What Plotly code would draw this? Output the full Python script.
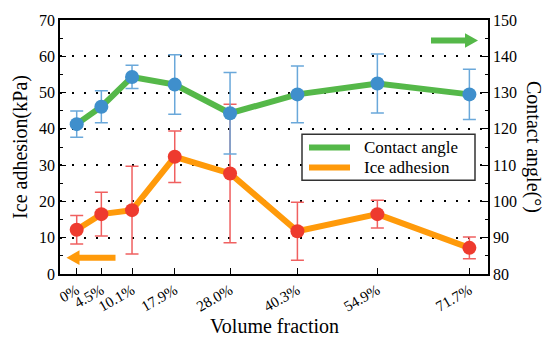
import plotly.graph_objects as go

# ---- data ----
volume_fraction = [0, 4.5, 10.1, 17.9, 28.0, 40.3, 54.9, 71.7]
tick_labels = ["0%", "4.5%", "10.1%", "17.9%", "28.0%", "40.3%", "54.9%", "71.7%"]
contact_angle = [121.3, 126.1, 134.3, 132.2, 124.3, 129.5, 132.5, 129.5]
contact_angle_err = [3.6, 4.4, 3.2, 8.2, 11.2, 7.8, 8.1, 6.9]
ice_adhesion = [12.2, 16.5, 17.6, 32.3, 27.7, 11.8, 16.5, 7.2]
ice_adhesion_err = [3.9, 6.0, 12.1, 7.1, 19.1, 8.0, 3.8, 3.0]
series_names = ["Contact angle", "Ice adhesion"]

GREEN = "#55b849"
ORANGE = "#ff9a0a"
BLUE = "#3f8fcc"
RED = "#ee3a2e"
FONT = "Liberation Serif"

W, H = 550, 346
ML, MR, MT, MB = 60, 62, 14, 72
PW, PH = W - ML - MR, H - MT - MB


def px(xp):
    return (xp - ML) / PW


def py(yp):
    return (H - MB - yp) / PH


fig = go.Figure()

fig.add_trace(go.Scatter(
    x=volume_fraction, y=ice_adhesion, mode="lines+markers", name=series_names[1],
    showlegend=False,
    line=dict(color=ORANGE, width=6),
    marker=dict(color=RED, size=14),
    error_y=dict(type="data", array=ice_adhesion_err, color="#f06060", thickness=1.5, width=6.5),
    yaxis="y",
))
fig.add_trace(go.Scatter(
    x=volume_fraction, y=contact_angle, mode="lines+markers", name=series_names[0],
    showlegend=False,
    line=dict(color=GREEN, width=6),
    marker=dict(color=BLUE, size=14),
    error_y=dict(type="data", array=contact_angle_err, color="#6aa8da", thickness=1.5, width=6.5),
    yaxis="y2",
))

shapes = [
    # legend box
    dict(type="rect", xref="paper", yref="paper", x0=px(302), x1=px(475), y0=py(178), y1=py(131),
         line=dict(color="#333333", width=1.5), fillcolor="white", layer="above"),
    dict(type="line", xref="paper", yref="paper", x0=px(309), x1=px(350), y0=py(144.5), y1=py(144.5),
         line=dict(color=GREEN, width=6), layer="above"),
    dict(type="line", xref="paper", yref="paper", x0=px(309), x1=px(350), y0=py(165), y1=py(165),
         line=dict(color=ORANGE, width=6), layer="above"),
    # green arrow (right axis)
    dict(type="line", xref="paper", yref="paper", x0=px(431), x1=px(466), y0=py(35), y1=py(35),
         line=dict(color=GREEN, width=6), layer="above"),
    dict(type="path", xref="paper", yref="paper",
         path=f"M {px(465)} {py(27.5)} L {px(478)} {py(35)} L {px(465)} {py(42.5)} Z",
         fillcolor=GREEN, line=dict(width=0), layer="above"),
    # orange arrow (left axis)
    dict(type="line", xref="paper", yref="paper", x0=px(78), x1=px(115.5), y0=py(257.3), y1=py(257.3),
         line=dict(color=ORANGE, width=6), layer="above"),
    dict(type="path", xref="paper", yref="paper",
         path=f"M {px(79.5)} {py(249.8)} L {px(66.5)} {py(257.3)} L {px(79.5)} {py(264.8)} Z",
         fillcolor=ORANGE, line=dict(width=0), layer="above"),
]

annotations = [
    dict(xref="paper", yref="paper", x=px(362), y=py(144.5), text=series_names[0],
         showarrow=False, xanchor="left", yanchor="middle",
         font=dict(family=FONT, size=17, color="black")),
    dict(xref="paper", yref="paper", x=px(362), y=py(165), text=series_names[1],
         showarrow=False, xanchor="left", yanchor="middle",
         font=dict(family=FONT, size=17, color="black")),
    dict(xref="paper", yref="paper", x=px(534), y=py(144), text="Contact angle(°)",
         textangle=90, showarrow=False, xanchor="center", yanchor="middle",
         font=dict(family=FONT, size=20, color="black")),
    dict(xref="paper", yref="paper", x=px(274), y=py(327), text="Volume fraction",
         showarrow=False, xanchor="center", yanchor="middle",
         font=dict(family=FONT, size=20, color="black")),
]

fig.update_layout(
    width=W, height=H,
    margin=dict(l=ML, r=MR, t=MT, b=MB),
    paper_bgcolor="white", plot_bgcolor="white",
    font=dict(family=FONT, size=16, color="black"),
    showlegend=False,
    xaxis=dict(
        range=[-3.05, 75.1], tickvals=volume_fraction, ticktext=tick_labels,
        tickangle=-30, tickfont=dict(family=FONT, size=15),
        ticks="inside", ticklen=6, tickcolor="black",
        showgrid=False, zeroline=False,
        showline=True, linecolor="black", linewidth=1.5, mirror=True,
    ),
    yaxis=dict(
        range=[0, 70], dtick=10, ticks="inside", ticklen=6, tickcolor="black",
        tickfont=dict(family=FONT, size=16),
        minor=dict(dtick=5, ticks="inside", ticklen=3, tickcolor="black", showgrid=False),
        showgrid=True, gridcolor="black", gridwidth=2, griddash="2px,10px",
        zeroline=False, showline=True, linecolor="black", linewidth=1.5,
        title=dict(text="Ice adhesion(kPa)", font=dict(family=FONT, size=20), standoff=6),
    ),
    yaxis2=dict(
        range=[80, 150], dtick=10, overlaying="y", side="right",
        ticks="inside", ticklen=6, tickcolor="black",
        tickfont=dict(family=FONT, size=16),
        minor=dict(dtick=5, ticks="inside", ticklen=3, tickcolor="black", showgrid=False),
        showgrid=False, zeroline=False, showline=True, linecolor="black", linewidth=1.5,
    ),
    shapes=shapes,
    annotations=annotations,
)

fig.write_html("out.html", config={"displayModeBar": False},
               post_script="document.body.style.margin='0px';")
